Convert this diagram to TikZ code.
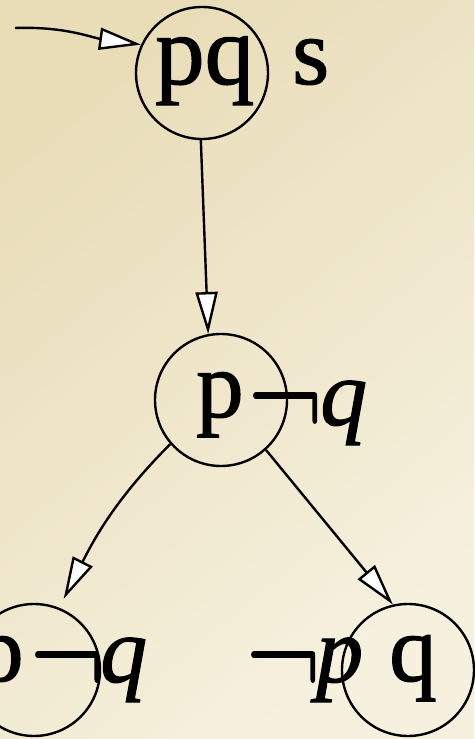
\documentclass[tikz,border=0pt]{standalone}
\usepackage{fontspec}
\setmainfont{Liberation Serif}
\newfontfamily\upfont{Liberation Serif}[FakeBold=1.2]
\newfontfamily\notfont{Latin Modern Roman}[FakeBold=1.3]
\usetikzlibrary{arrows.meta}
\definecolor{bgA}{RGB}{233,221,184}
\definecolor{bgB}{RGB}{246,241,223}
\begin{document}
\begin{tikzpicture}[x=1pt,y=1pt,
  state/.style={circle,draw,line width=2.4pt,minimum size=132pt,inner sep=0pt},
  lbl/.style={inner sep=0pt,anchor=base west,font=\fontsize{95}{100}\selectfont\upfont},
  tlbl/.style={lbl,font=\fontsize{99}{100}\selectfont\upfont},
  ilbl/.style={lbl,font=\fontsize{94}{100}\selectfont\upfont\itshape},
  nlbl/.style={lbl,font=\fontsize{100}{100}\selectfont\notfont},
  edge/.style={line width=2.4pt,-{Triangle[length=42pt,width=22pt,fill=white]}}]
\useasboundingbox (0,0) rectangle (474,739);
\shade[top color=bgA,bottom color=bgB,shading angle=40] (0,0) rectangle (474,739);
\newcommand{\tallnot}{\scalebox{1}[1.4]{¬}}
% states
\node[state] (A) at (202,666) {};
\node[state] (B) at (221,339) {};
\node[state] (C) at (34,69) {};
\node[state] (D) at (408,69) {};
% labels
\node[tlbl] (tpq) at (155,655) {pq};
\node[lbl] (ts) at (292,655) {s};
\node[lbl] (mp) at (196,322) {p};
\node[nlbl] (mn) at (249,296) {\tallnot};
\node[ilbl] (mq) at (320,314) {q};
\node[lbl] (lp) at (-24,58) {p};
\node[nlbl] (ln) at (31,37) {\tallnot};
\node[ilbl] (lq) at (100,57) {q};
\node[nlbl] (rn) at (247,37) {\tallnot};
\node[ilbl] (rp) at (316,57) {p};
\node[lbl] (rq) at (389,58) {q};
% connectors
\coordinate (start) at (15,711);
\draw[edge] (start) to[out=2,in=172] (A.155);
\draw[edge] (A.269) -- (B.101);
\draw[edge, shorten >=10pt] (B.221) to[out=225,in=63] (C.68);
\draw[edge] (B.312) -- (D.103);
\end{tikzpicture}
\end{document}
